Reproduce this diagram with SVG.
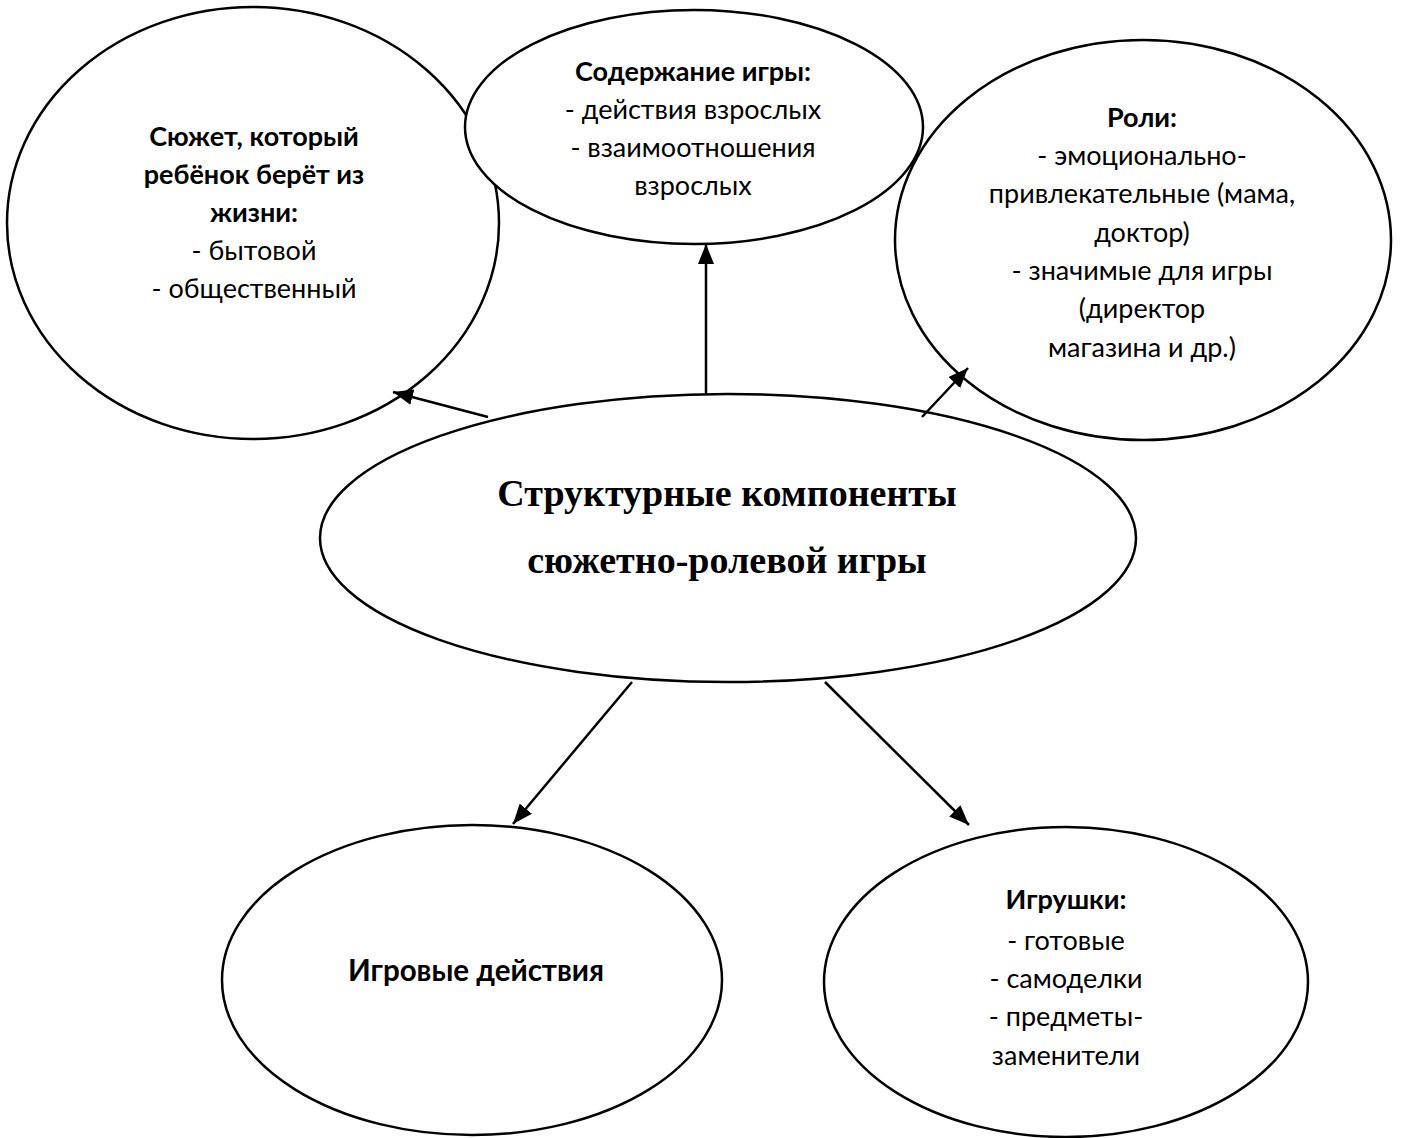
<svg xmlns="http://www.w3.org/2000/svg" width="1402" height="1138" viewBox="0 0 1402 1138">
<style>
.node ellipse{fill:#fff;stroke:#000;stroke-width:2.5}
.t{font-family:Lato,"Noto Sans",sans-serif;font-size:27px;fill:#000;text-anchor:middle}
.b{font-weight:bold}
.big{font-size:29.5px}
.title{font-family:"Liberation Serif","Times New Roman",serif;font-weight:bold;font-size:38px;fill:#000;text-anchor:middle}
#connectors line{stroke:#000;stroke-width:2.5;marker-end:url(#arrow)}
</style>
<defs>
<marker id="arrow" markerUnits="userSpaceOnUse" markerWidth="20" markerHeight="16" viewBox="0 0 20 16" refX="20" refY="8" orient="auto">
<path d="M0,0 L20,8 L0,16 Z" fill="#000"/>
</marker>
</defs>
<rect width="1402" height="1138" fill="#fff"/>
<g id="node-plot" class="node">
<ellipse cx="253" cy="223" rx="246" ry="216"/>
<text class="t" x="254"><tspan class="b" x="254" y="146">Сюжет, который</tspan><tspan class="b" x="254" y="184">ребёнок берёт из</tspan><tspan class="b" x="254" y="222">жизни:</tspan><tspan x="254" y="260">- бытовой</tspan><tspan x="254" y="298">- общественный</tspan></text>
</g>
<g id="node-roles" class="node">
<ellipse cx="1143" cy="240" rx="248" ry="200"/>
<text class="t"><tspan class="b" x="1142" y="127">Роли:</tspan><tspan x="1142" y="165">- эмоционально-</tspan><tspan x="1142" y="203">привлекательные (мама,</tspan><tspan x="1142" y="242">доктор)</tspan><tspan x="1142" y="280">- значимые для игры</tspan><tspan x="1142" y="318">(директор</tspan><tspan x="1142" y="357">магазина и др.)</tspan></text>
</g>
<g id="node-content" class="node">
<ellipse cx="694" cy="127" rx="229" ry="117"/>
<text class="t"><tspan class="b" x="693" y="81">Содержание игры:</tspan><tspan x="693" y="119">- действия взрослых</tspan><tspan x="693" y="157">- взаимоотношения</tspan><tspan x="693" y="195">взрослых</tspan></text>
</g>
<g id="node-center" class="node">
<ellipse cx="728" cy="538" rx="408" ry="144"/>
<text class="title"><tspan x="727" y="506">Структурные компоненты</tspan><tspan x="727" y="573">сюжетно-ролевой игры</tspan></text>
</g>
<g id="node-actions" class="node">
<ellipse cx="472" cy="980" rx="250" ry="155"/>
<text class="t b big" x="476" y="981">Игровые действия</text>
</g>
<g id="node-toys" class="node">
<ellipse cx="1066" cy="982" rx="242" ry="155"/>
<text class="t"><tspan class="b" x="1066" y="909">Игрушки:</tspan><tspan x="1066" y="950">- готовые</tspan><tspan x="1066" y="988">- самоделки</tspan><tspan x="1066" y="1026">- предметы-</tspan><tspan x="1066" y="1065">заменители</tspan></text>
</g>
<g id="connectors">
<line x1="488" y1="417" x2="393" y2="392"/>
<line x1="706" y1="394" x2="706" y2="244"/>
<line x1="922" y1="417" x2="968" y2="368"/>
<line x1="632" y1="682" x2="513" y2="824"/>
<line x1="825" y1="682" x2="969" y2="825"/>
</g>
</svg>
